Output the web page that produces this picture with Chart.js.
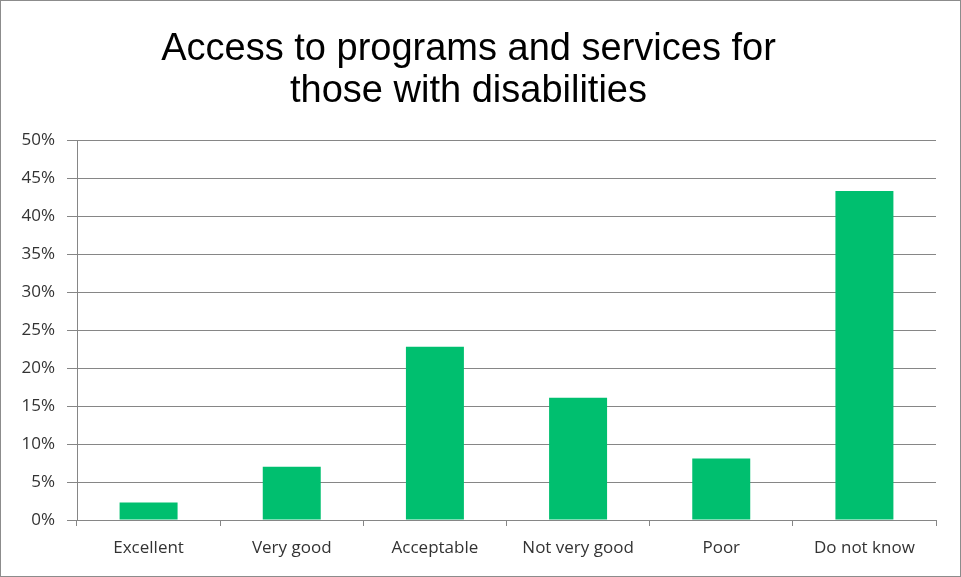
<!DOCTYPE html>
<html>
<head>
<meta charset="utf-8">
<script src="https://cdn.jsdelivr.net/npm/chart.js@4.4.0/dist/chart.umd.min.js"></script>
<style>
  html, body { margin: 0; padding: 0; background: #fff; }
  .wrap { width: 961px; height: 577px; box-sizing: border-box; border: 1px solid #8c8c8c; }
</style>
</head>
<body>
<div class="wrap"><canvas id="chart"></canvas></div>
<script>
// data
const categories = ["Excellent", "Very good", "Acceptable", "Not very good", "Poor", "Do not know"];
const shares = [2.3, 7.0, 22.8, 16.1, 8.1, 43.3];
const titleLines = ["Access to programs and services for", "those with disabilities"];

const ctx = document.getElementById("chart").getContext("2d");
new Chart(ctx, {
  type: "bar",
  data: {
    labels: categories,
    datasets: [{
      label: "Share",
      data: shares,
      backgroundColor: "#00bf6f",
      borderWidth: 0,
      categoryPercentage: 1,
      barPercentage: 0.405
    }]
  },
  options: {
    responsive: true,
    maintainAspectRatio: false,
    animation: false,
    layout: { padding: { left: 0, right: 24, top: 0, bottom: 8 } },
    plugins: {
      legend: { display: false },
      tooltip: { enabled: false },
      title: {
        display: true,
        text: titleLines,
        color: "#000",
        font: { family: "Liberation Sans", size: 38, weight: "normal", lineHeight: 1.12 },
        padding: { top: 27, bottom: 27 }
      }
    },
    scales: {
      x: {
        grid: { offset: true, drawOnChartArea: false, drawTicks: true, tickLength: 6, color: "#868686" },
        border: { color: "#868686", width: 1 },
        ticks: { color: "#333", font: { family: "Open Sans", size: 17 }, padding: 12, maxRotation: 0 },
        afterFit: function (scale) { scale.height = 48; }
      },
      y: {
        min: 0,
        max: 50,
        ticks: {
          stepSize: 5,
          color: "#333",
          font: { family: "Open Sans", size: 17 },
          padding: 12,
          callback: function (v) { return v + "%"; }
        },
        grid: { color: "#868686", tickLength: 10 },
        border: { color: "#868686", width: 1 },
        afterFit: function (scale) { scale.width = 76; }
      }
    }
  }
});
</script>
</body>
</html>
